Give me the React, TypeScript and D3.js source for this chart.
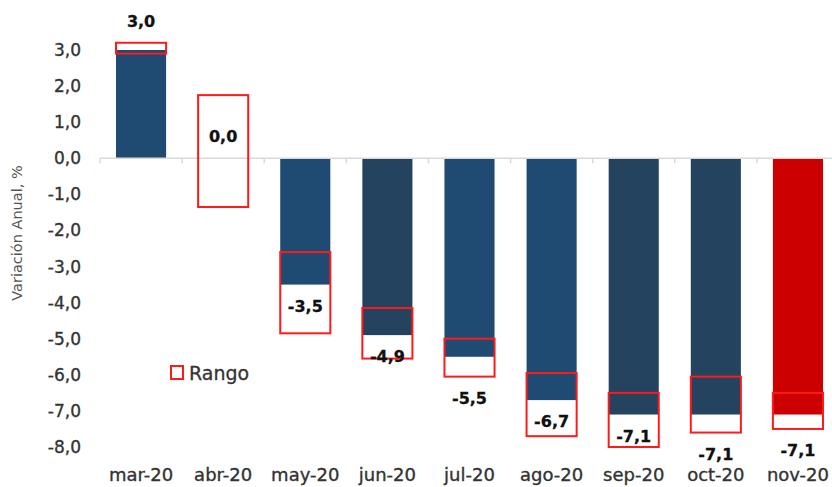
import * as d3 from 'd3';

// Variación anual (%) — valor puntual y rango de estimaciones
const months = ['mar-20', 'abr-20', 'may-20', 'jun-20', 'jul-20', 'ago-20', 'sep-20', 'oct-20', 'nov-20'];
const values = [3.0, 0.0, -3.5, -4.9, -5.5, -6.7, -7.1, -7.1, -7.1];
const rangeHigh = [3.2, 1.75, -2.6, -4.15, -5.0, -5.95, -6.5, -6.05, -6.5];
const rangeLow = [2.9, -1.35, -4.85, -5.55, -6.05, -7.7, -8.0, -7.6, -7.5];
const barTone = ['light', 'light', 'light', 'dark', 'light', 'light', 'dark', 'dark', 'red'];
// where the value label sits: next to the bar end or next to the range box
const labelAnchor = ['range', 'bar', 'bar', 'bar', 'range', 'bar', 'bar', 'range', 'range'];
const yTicks = [3, 2, 1, 0, -1, -2, -3, -4, -5, -6, -7, -8];

const W = 832;
const H = 487;
const FONT = '"DejaVu Sans", Arial, sans-serif';
const colors: Record<string, string> = { light: '#1f4b73', dark: '#23435f', red: '#cc0000' };

const fmt = (v: number) => d3.format('.1f')(v).replace('.', ',').replace('−', '-');

export default function App() {
  const x = d3.scaleBand<string>().domain(months).range([100, 839]).paddingInner(0.39).paddingOuter(0.195);
  const y = d3.scaleLinear().domain([-8, 3]).range([447, 50]);
  const y0 = y(0);
  const bw = x.bandwidth();
  const step = x.step();
  const start = x(months[0])! - (step - bw) / 2;

  return (
    <svg width={W} height={H} style={{ position: 'absolute', left: 0, top: 0, background: '#fff' }} fontFamily={FONT}>
      {/* bars */}
      {months.map((m, i) => {
        const v = values[i];
        if (v === 0) return null;
        return (
          <rect
            key={m}
            x={x(m)}
            width={bw}
            y={Math.min(y(v), y0)}
            height={Math.abs(y(v) - y0)}
            fill={colors[barTone[i]]}
          />
        );
      })}

      {/* axis line + ticks */}
      <line x1={100} x2={W} y1={y0} y2={y0} stroke="#d9d9d9" strokeWidth={1.5} />
      {d3.range(months.length + 1).map(i => (
        <line key={i} x1={start + i * step} x2={start + i * step} y1={y0} y2={y0 + 5} stroke="#d9d9d9" strokeWidth={1.5} />
      ))}

      {/* range boxes */}
      {months.map((m, i) => (
        <rect
          key={'r' + m}
          x={x(m)}
          width={bw}
          y={y(rangeHigh[i])}
          height={y(rangeLow[i]) - y(rangeHigh[i])}
          fill="none"
          stroke="#ff1a1a"
          strokeWidth={2}
        />
      ))}

      {/* value labels */}
      {months.map((m, i) => {
        const v = values[i];
        const up = v >= 0;
        let ref: number;
        if (labelAnchor[i] === 'range') ref = up ? y(rangeHigh[i]) : y(rangeLow[i]);
        else ref = y(v);
        const cy = up ? ref - 22 : ref + 21;
        return (
          <text
            key={'l' + m}
            x={x(m)! + bw / 2}
            y={cy + 6}
            textAnchor="middle"
            fontSize={16}
            fontWeight="bold"
            fill="#111"
            stroke="#111"
            strokeWidth={0.3}
          >
            {fmt(v)}
          </text>
        );
      })}

      {/* y ticks */}
      {yTicks.map(t => (
        <text key={t} x={81} y={y(t) + 6} textAnchor="end" fontSize={17} fill="#333" stroke="#333" strokeWidth={0.35}>
          {fmt(t)}
        </text>
      ))}

      {/* y title */}
      <text transform="translate(22,233) rotate(-90)" textAnchor="middle" fontSize={14.5} fill="#555">
        Variación Anual, %
      </text>

      {/* x labels */}
      {months.map(m => (
        <text key={'x' + m} x={x(m)! + bw / 2} y={481} textAnchor="middle" fontSize={18} fill="#333" stroke="#333" strokeWidth={0.35}>
          {m}
        </text>
      ))}

      {/* legend */}
      <rect x={171} y={366} width={12} height={13} fill="none" stroke="#ff1a1a" strokeWidth={2} />
      <text x={189} y={380} fontSize={19} fill="#333" stroke="#333" strokeWidth={0.3}>
        Rango
      </text>
    </svg>
  );
}
